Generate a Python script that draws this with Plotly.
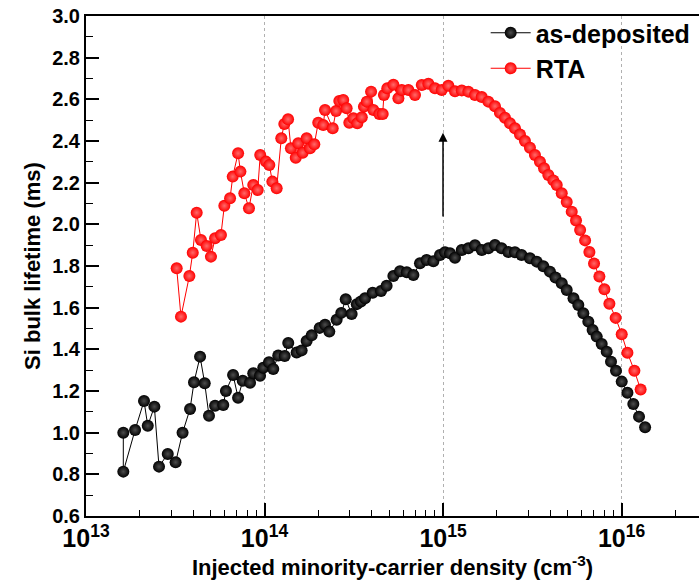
import numpy as np
import plotly.graph_objects as go

# Injection level stored as log10(Δn / cm^-3); lifetime in ms
asdep_log_n = [
    13.209, 13.209, 13.275, 13.325, 13.346, 13.383, 13.409, 13.458, 13.502, 13.541,
    13.583, 13.605, 13.639, 13.665, 13.689, 13.723, 13.769, 13.784, 13.824, 13.852,
    13.878, 13.919, 13.937, 13.975, 13.993, 14.025, 14.049, 14.077, 14.113, 14.133,
    14.180, 14.208, 14.236, 14.264, 14.309, 14.339, 14.363, 14.404, 14.430, 14.455,
    14.488, 14.517, 14.540, 14.563, 14.606, 14.653, 14.684, 14.722, 14.759, 14.797,
    14.834, 14.871, 14.908, 14.946, 14.983, 15.011, 15.039, 15.067, 15.105, 15.142,
    15.179, 15.217, 15.254, 15.291, 15.328, 15.366, 15.403, 15.440, 15.487, 15.525,
    15.562, 15.599, 15.630, 15.665, 15.693, 15.731, 15.758, 15.786, 15.814, 15.838,
    15.861, 15.889, 15.917, 15.941, 15.969, 16.001, 16.033, 16.066, 16.098, 16.132,
]
asdep_tau = [
    1.000, 0.813, 1.013, 1.152, 1.033, 1.125, 0.837, 0.898, 0.858, 1.000,
    1.114, 1.242, 1.365, 1.237, 1.081, 1.129, 1.133, 1.200, 1.277, 1.168,
    1.249, 1.240, 1.285, 1.273, 1.312, 1.338, 1.306, 1.370, 1.368, 1.430,
    1.385, 1.395, 1.440, 1.467, 1.503, 1.518, 1.485, 1.542, 1.575, 1.640,
    1.570, 1.617, 1.630, 1.645, 1.672, 1.680, 1.705, 1.752, 1.775, 1.770,
    1.757, 1.813, 1.829, 1.823, 1.853, 1.866, 1.861, 1.840, 1.877, 1.885,
    1.900, 1.877, 1.885, 1.901, 1.885, 1.867, 1.866, 1.853, 1.837, 1.821,
    1.799, 1.773, 1.745, 1.717, 1.685, 1.645, 1.613, 1.573, 1.533, 1.493,
    1.461, 1.426, 1.389, 1.341, 1.297, 1.245, 1.192, 1.138, 1.077, 1.026,
]

rta_log_n = [
    13.508, 13.532, 13.579, 13.598, 13.620, 13.644, 13.676, 13.700, 13.723, 13.756,
    13.775, 13.807, 13.822, 13.852, 13.865, 13.887, 13.913, 13.937, 13.962, 13.976,
    14.008, 14.027, 14.044, 14.068, 14.094, 14.111, 14.132, 14.148, 14.175, 14.189,
    14.214, 14.236, 14.255, 14.279, 14.301, 14.329, 14.339, 14.382, 14.401, 14.419,
    14.441, 14.460, 14.475, 14.498, 14.520, 14.545, 14.557, 14.573, 14.597, 14.610,
    14.643, 14.662, 14.669, 14.688, 14.722, 14.750, 14.769, 14.806, 14.843, 14.881,
    14.918, 14.955, 14.993, 15.030, 15.067, 15.105, 15.142, 15.179, 15.217, 15.254,
    15.291, 15.319, 15.347, 15.375, 15.403, 15.431, 15.459, 15.487, 15.515, 15.543,
    15.566, 15.590, 15.618, 15.637, 15.665, 15.693, 15.721, 15.745, 15.768, 15.796,
    15.820, 15.846, 15.876, 15.904, 15.932, 15.967, 16.001, 16.033, 16.072, 16.107,
]
rta_tau = [
    1.789, 1.557, 1.752, 1.864, 2.056, 1.925, 1.896, 1.845, 1.933, 1.949,
    2.089, 2.125, 2.229, 2.341, 2.253, 2.149, 2.077, 2.189, 2.165, 2.333,
    2.301, 2.285, 2.205, 2.173, 2.413, 2.482, 2.504, 2.365, 2.320, 2.389,
    2.344, 2.413, 2.365, 2.384, 2.488, 2.477, 2.549, 2.461, 2.544, 2.592,
    2.597, 2.557, 2.488, 2.509, 2.485, 2.514, 2.565, 2.589, 2.637, 2.549,
    2.530, 2.530, 2.621, 2.653, 2.670, 2.605, 2.645, 2.645, 2.621, 2.669,
    2.675, 2.653, 2.645, 2.665, 2.639, 2.643, 2.637, 2.621, 2.611, 2.589,
    2.567, 2.535, 2.512, 2.485, 2.461, 2.431, 2.400, 2.368, 2.333, 2.300,
    2.269, 2.237, 2.211, 2.189, 2.149, 2.107, 2.061, 2.018, 1.973, 1.923,
    1.867, 1.812, 1.750, 1.688, 1.619, 1.551, 1.472, 1.384, 1.297, 1.207,
]

series_names = ["as-deposited", "RTA"]
series_colors = ["#000000", "#ff0000"]
highlight_colors = ["#4d4d4d", "#ff6a6a"]

# Arrow marking the lifetime gain after annealing (x in log10 units, y in ms)
arrow_log_n = 15.0
arrow_tau = [2.03, 2.44]

FONT = "Liberation Sans, Arial, sans-serif"

fig = go.Figure()
for name, logn, tau, col, hl in zip(
    series_names, [asdep_log_n, rta_log_n], [asdep_tau, rta_tau],
    series_colors, highlight_colors,
):
    fig.add_trace(go.Scatter(
        x=10 ** np.array(logn), y=tau, name=name, mode="lines+markers",
        line=dict(color=col, width=1),
        marker=dict(size=12, color=col, line=dict(width=0),
                    gradient=dict(type="radial", color=hl)),
    ))

fig.add_annotation(
    x=arrow_log_n, y=arrow_tau[1], ax=arrow_log_n, ay=arrow_tau[0],
    xref="x", yref="y", axref="x", ayref="y", text="", showarrow=True,
    arrowhead=2, arrowsize=1.2, arrowwidth=1.5, arrowcolor="#000000",
)

fig.update_layout(
    width=699, height=585,
    margin=dict(l=86, r=0, t=16, b=69),
    paper_bgcolor="white", plot_bgcolor="white",
    font=dict(family=FONT, color="#000000"),
    showlegend=True,
    legend=dict(
        x=0.652, y=1.012, xanchor="left", yanchor="top",
        bgcolor="rgba(0,0,0,0)",
        font=dict(size=25, family=FONT, weight="bold"),
        itemwidth=40, tracegroupgap=0,
    ),
)

fig.update_xaxes(
    type="log", range=[13, 16.434], dtick=1, exponentformat="power",
    showline=True, linecolor="#000000", linewidth=2, mirror=True,
    ticks="inside", ticklen=13, tickwidth=1.5, tickcolor="#000000",
    minor=dict(ticks="inside", ticklen=6, tickwidth=1.2, tickcolor="#000000",
               dtick="D1", showgrid=False),
    showgrid=True, gridcolor="#b0b0b0", griddash="dot", gridwidth=1,
    tickfont=dict(size=20, family=FONT, weight="bold"),
    title=dict(text="Injected minority-carrier density (cm<sup>-3</sup>)",
               font=dict(size=22, family=FONT, weight="bold"), standoff=8),
    zeroline=False,
)
fig.update_yaxes(
    range=[0.6, 3.0], dtick=0.2, tickformat=".1f",
    showline=True, linecolor="#000000", linewidth=2, mirror=False,
    ticks="inside", ticklen=13, tickwidth=1.5, tickcolor="#000000",
    minor=dict(ticks="inside", ticklen=7, tickwidth=1.2, tickcolor="#000000",
               dtick=0.1, showgrid=False),
    showgrid=False, zeroline=False,
    tickfont=dict(size=20, family=FONT, weight="bold"),
    title=dict(text="Si bulk lifetime (ms)",
               font=dict(size=22, family=FONT, weight="bold"), standoff=5),
)

fig.write_html("out.html")
